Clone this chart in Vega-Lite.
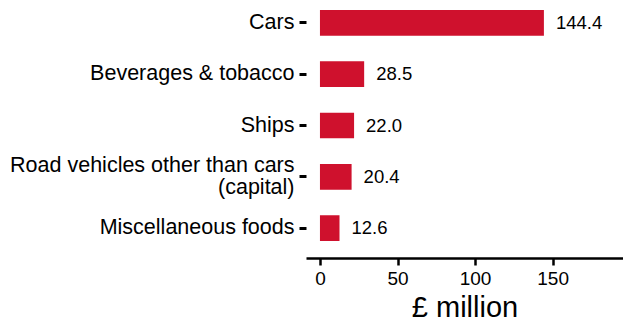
{
  "$schema": "https://vega.github.io/schema/vega-lite/v6.json",
  "autosize": {"type": "none"},
  "padding": {"left": 306, "top": 0, "right": 0, "bottom": 68},
  "width": 317,
  "height": 251,
  "background": "white",
  "config": {
    "view": {"stroke": null},
    "font": "Liberation Sans"
  },
  "data": {
    "values": [
      {"category": "Cars", "value": 144.4, "label": "144.4"},
      {"category": "Beverages & tobacco", "value": 28.5, "label": "28.5"},
      {"category": "Ships", "value": 22.0, "label": "22.0"},
      {"category": "Road vehicles other than cars (capital)", "value": 20.4, "label": "20.4"},
      {"category": "Miscellaneous foods", "value": 12.6, "label": "12.6"}
    ]
  },
  "encoding": {
    "y": {
      "field": "category",
      "type": "nominal",
      "sort": null,
      "scale": {"paddingInner": 0.5, "paddingOuter": 0.195},
      "axis": {
        "title": null,
        "domain": false,
        "ticks": true,
        "tickSize": 7,
        "tickWidth": 3,
        "tickColor": "black",
        "labelFontSize": 21.5,
        "labelColor": "black",
        "labelPadding": 5,
        "labelLineHeight": 22,
        "labelLimit": 400,
        "labelOffset": {"condition": {"test": "datum.label == 'Road vehicles other than cars (capital)'", "value": -11}, "value": 0},
        "labelExpr": "datum.label == 'Road vehicles other than cars (capital)' ? ['Road vehicles other than cars', '(capital)'] : datum.label"
      }
    },
    "x": {
      "field": "value",
      "type": "quantitative",
      "scale": {"domain": [-9, 195.4], "nice": false, "zero": false},
      "axis": {
        "title": "£ million",
        "titleFontSize": 29,
        "titleFontWeight": "normal",
        "titleColor": "black",
        "titlePadding": 5,
        "values": [0, 50, 100, 150],
        "grid": false,
        "offset": 7,
        "domainColor": "black",
        "domainWidth": 2.5,
        "tickColor": "black",
        "tickWidth": 2.5,
        "tickSize": 7,
        "labelFontSize": 19,
        "labelColor": "black",
        "labelPadding": 4,
        "labelFlush": false
      }
    }
  },
  "layer": [
    {
      "mark": {"type": "bar", "color": "#cf112d"},
      "encoding": {
        "x": {"datum": 0},
        "x2": {"field": "value"}
      }
    },
    {
      "mark": {"type": "text", "align": "left", "baseline": "middle", "dx": 12, "fontSize": 18.5, "color": "black"},
      "encoding": {
        "text": {"field": "label"}
      }
    }
  ]
}
